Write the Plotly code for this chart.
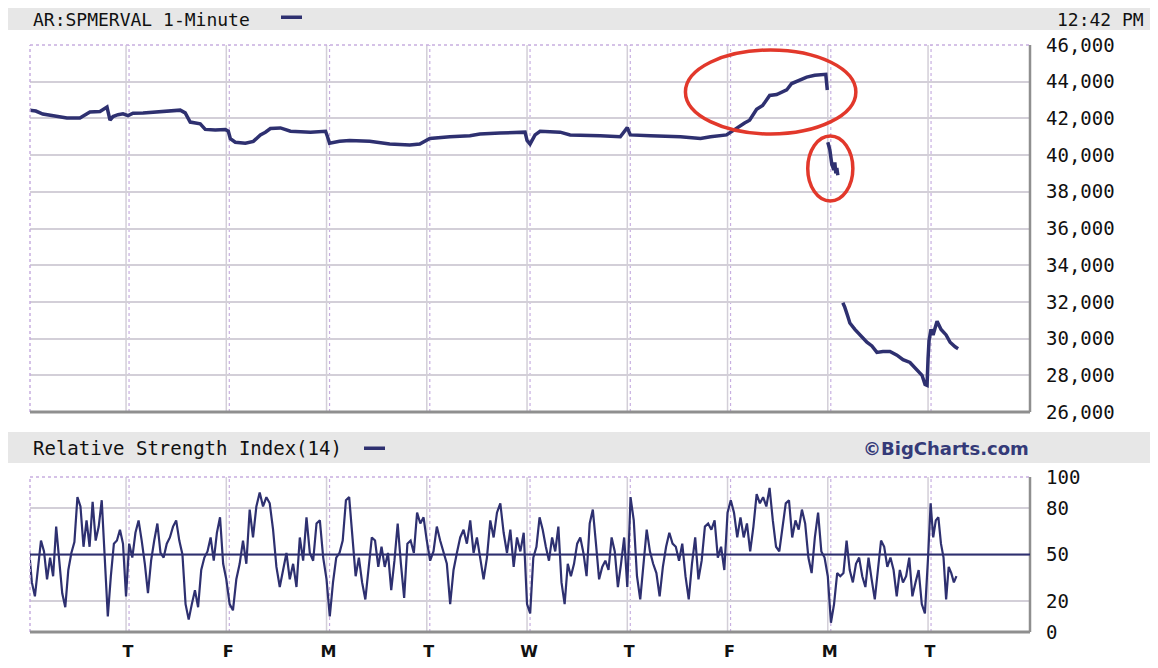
import numpy as np
import plotly.graph_objects as go

# ---------------- data ----------------
symbol_title = "AR:SPMERVAL 1-Minute"
rsi_title = "Relative Strength Index(14)"
last_time = "12:42 PM"
session_open_h, session_close_h = 11, 17   # local trading session
day_labels = ["T", "F", "M", "T", "W", "T", "F", "M", "T"]  # sessions 0..8

# price: time in trading-day units (session index + fraction of session), None = no trades
price_t = [-0.96, -0.90, -0.83, -0.71, -0.59, -0.46, -0.36, -0.26, -0.19, -0.16, -0.13, -0.08, -0.03,
           0.02, 0.07, 0.17, 0.34, 0.44, 0.54, 0.59, 0.64, 0.74, 0.79, 0.89, 0.99,
           1.02, 1.04, 1.09, 1.19, 1.27, 1.34, 1.39, 1.44, 1.54, 1.64, 1.84, 1.99,
           2.01, 2.03, 2.13, 2.23, 2.43, 2.63, 2.83, 2.93,
           3.03, 3.23, 3.43, 3.53, 3.73, 3.98,
           4.00, 4.03, 4.08, 4.13, 4.33, 4.43, 4.73, 4.93,
           5.00, 5.03, 5.23, 5.53, 5.73, 5.83, 5.99,
           6.07, 6.17, 6.22, 6.29, 6.35, 6.42, 6.49, 6.59, 6.64, 6.72, 6.79, 6.87, 6.98, 6.995,
           6.998,
           7.00, 7.02, 7.04, 7.06, 7.07, 7.08, 7.09, 7.10,
           7.12,
           7.15, 7.17, 7.20, 7.22, 7.27, 7.32, 7.39, 7.44, 7.49, 7.55, 7.62, 7.69, 7.75, 7.82,
           7.89, 7.94, 7.97, 7.99,
           8.00, 8.01, 8.03, 8.05, 8.09, 8.13, 8.18, 8.22, 8.27, 8.30]
price_v = [42450, 42400, 42240, 42150, 42020, 42020, 42350, 42380, 42620, 41900, 42100, 42200, 42250,
           42150, 42280, 42300, 42350, 42400, 42450, 42300, 41800, 41700, 41400, 41370, 41400,
           41300, 40900, 40700, 40650, 40750, 41100, 41250, 41450, 41480, 41300, 41250, 41300,
           41000, 40650, 40750, 40800, 40750, 40600, 40550, 40600,
           40900, 41000, 41050, 41150, 41200, 41250,
           40800, 40600, 41100, 41300, 41250, 41100, 41050, 41000,
           41500, 41100, 41050, 41000, 40900, 41000, 41100,
           41400, 41750, 41900, 42500, 42700, 43250, 43300, 43550, 43900, 44100, 44250, 44350, 44400, 43550,
           None,
           40700, 40300, 39500, 39200, 39600, 39000, 39300, 38900,
           None,
           31950, 31700, 31200, 30850, 30500, 30200, 29800, 29600, 29250, 29300, 29300, 29100, 28850, 28700,
           28250, 28000, 27500, 27450,
           28900, 29900, 30500, 30200, 30950, 30500, 30200, 29800, 29550, 29450]

# RSI(14), readings spread evenly through each session
rsi_s_m1 = [77, 55, 32, 23, 40, 59, 52, 34, 48, 36, 68, 44, 25, 16, 40, 51, 58, 87, 81, 55, 72, 55, 84,
            59, 68, 85, 51, 10, 36, 57, 59, 66, 57]
rsi_s0 = [23, 57, 48, 64, 72, 59, 44, 25, 46, 59, 70, 51, 48, 57, 61, 68, 72, 59, 50, 18, 8, 18, 27, 16,
          40, 48, 52, 61, 46, 64, 74, 44]
rsi_s1 = [34, 18, 14, 34, 44, 59, 44, 79, 61, 81, 90, 81, 87, 83, 66, 42, 29, 40, 51, 34, 44, 29, 61, 46,
          74, 51, 46, 70, 72, 48]
rsi_s2 = [34, 10, 32, 48, 51, 59, 85, 87, 61, 36, 48, 32, 21, 42, 61, 59, 42, 55, 42, 51, 27, 46, 70, 44,
          22, 57, 59, 51, 77, 70, 74]
rsi_s3 = [59, 46, 52, 68, 59, 52, 44, 18, 40, 51, 61, 66, 57, 72, 51, 61, 48, 34, 48, 72, 61, 77, 83, 64,
          51, 66, 42, 61, 52, 64]
rsi_s4 = [18, 12, 48, 55, 74, 66, 55, 46, 61, 52, 68, 32, 18, 44, 36, 44, 57, 61, 51, 36, 70, 79, 57, 34,
          42, 46, 40, 61, 52, 29, 44, 61]
rsi_s5 = [29, 87, 72, 36, 21, 42, 66, 52, 44, 38, 23, 42, 55, 64, 57, 55, 46, 57, 36, 21, 44, 61, 34, 46,
          68, 70, 66, 72, 48, 55, 40]
rsi_s6 = [77, 85, 77, 61, 74, 61, 70, 52, 68, 89, 83, 87, 81, 93, 72, 55, 52, 68, 83, 85, 61, 72, 66, 79,
          70, 48, 38, 61, 77, 52, 48]
rsi_s7 = [36, 6, 18, 38, 36, 38, 59, 40, 32, 44, 48, 36, 29, 48, 34, 21, 40, 59, 55, 42, 48, 40, 23, 40,
          32, 36, 48, 23, 32, 40, 18, 12]
rsi_s8 = [48, 83, 61, 72, 74, 57, 48, 21, 42, 38, 32, 36]
rsi_sessions = [rsi_s_m1, rsi_s0, rsi_s1, rsi_s2, rsi_s3, rsi_s4, rsi_s5, rsi_s6, rsi_s7, rsi_s8]
rsi_session_index = [-1, 0, 1, 2, 3, 4, 5, 6, 7, 8]

price_ticks = [26000, 28000, 30000, 32000, 34000, 36000, 38000, 40000, 42000, 44000, 46000]
rsi_ticks = [0, 20, 50, 80, 100]

# ---------------- build series ----------------
hh, mm = last_time.split()[0].split(":")
h = int(hh) + (12 if last_time.endswith("PM") and int(hh) != 12 else 0)
last_frac = (h * 60 + int(mm) - session_open_h * 60) / ((session_close_h - session_open_h) * 60)

rsi_x, rsi_y = [], []
for k, vals in zip(rsi_session_index, rsi_sessions):
    n = len(vals)
    if k == rsi_session_index[-1]:
        fr = np.linspace(0, last_frac, n)
    else:
        fr = np.arange(n) / n
    rsi_x.extend(list(k + fr))
    rsi_y.extend(vals)

NAVY = "#2e3070"
OFF = 8                     # page body margin
W, H = 1158 - 2 * OFF, 668 - 2 * OFF
FONT = "DejaVu Sans Mono"

def px_x(p):
    return (p - OFF) / W

def px_y(p):
    return 1 - (p - OFF) / H

xdom = [px_x(30), px_x(1030)]
ydom_top = [px_y(412), px_y(45)]
ydom_rsi = [px_y(632), px_y(477)]
xrange_ = [-0.958, 9.017]

fig = go.Figure()
fig.add_trace(go.Scatter(x=price_t, y=price_v, mode="lines", connectgaps=False,
                         line=dict(color=NAVY, width=3.5), xaxis="x", yaxis="y", hoverinfo="skip"))
fig.add_trace(go.Scatter(x=rsi_x, y=rsi_y, mode="lines",
                         line=dict(color=NAVY, width=2.2), xaxis="x2", yaxis="y2", hoverinfo="skip"))

shapes = []
GRID = "#d3cfd8"
LAV = "#c8aee0"
# header bars
for y0, y1 in [(8, 30), (432, 463)]:
    shapes.append(dict(type="rect", xref="paper", yref="paper", x0=0, x1=1, y0=px_y(y1), y1=px_y(y0),
                       fillcolor="#e7e7e7", line=dict(width=0), layer="below"))
# vertical day lines (double) on both panels
for xa, ya in [("x", "y domain"), ("x2", "y2 domain")]:
    for k in range(len(day_labels)):
        shapes.append(dict(type="line", xref=xa, yref=ya, x0=k, x1=k, y0=0, y1=1,
                           line=dict(color=GRID, width=1.5), layer="below"))
        shapes.append(dict(type="line", xref=xa, yref=ya, x0=k + 0.03, x1=k + 0.03, y0=0, y1=1,
                           line=dict(color=LAV, width=1.2, dash="dot"), layer="below"))
    # frame
    shapes.append(dict(type="line", xref=xa + " domain", yref=ya, x0=0, x1=0, y0=0, y1=1,
                       line=dict(color=LAV, width=1.5, dash="dot")))
    shapes.append(dict(type="line", xref=xa + " domain", yref=ya, x0=0, x1=1, y0=1, y1=1,
                       line=dict(color=LAV, width=1.5, dash="dot")))
    shapes.append(dict(type="line", xref=xa + " domain", yref=ya, x0=1, x1=1, y0=0, y1=1,
                       line=dict(color="#8f8f8f", width=2.5)))
    shapes.append(dict(type="line", xref=xa + " domain", yref=ya, x0=0, x1=1, y0=0, y1=0,
                       line=dict(color="#8f8f8f", width=3)))
# RSI 50 line
shapes.append(dict(type="line", xref="x2 domain", yref="y2", x0=0, x1=1, y0=50, y1=50,
                   line=dict(color=NAVY, width=2)))
# red highlight ellipses
RED = "#e2382b"
shapes.append(dict(type="circle", xref="x", yref="y", x0=5.58, x1=7.28, y0=41150, y1=45730,
                   line=dict(color=RED, width=3.5)))
shapes.append(dict(type="circle", xref="x", yref="y", x0=6.80, x1=7.25, y0=37500, y1=41040,
                   line=dict(color=RED, width=3.5)))
# legend swatches
shapes.append(dict(type="rect", xref="paper", yref="paper", x0=px_x(281), x1=px_x(302),
                   y0=px_y(19), y1=px_y(15.5), fillcolor=NAVY, line=dict(width=0)))
shapes.append(dict(type="rect", xref="paper", yref="paper", x0=px_x(364), x1=px_x(385),
                   y0=px_y(450), y1=px_y(446.5), fillcolor=NAVY, line=dict(width=0)))

annotations = [
    dict(text=symbol_title, xref="paper", yref="paper", x=px_x(31), y=px_y(19), xanchor="left",
         yanchor="middle", showarrow=False, font=dict(family=FONT, size=18, color="#111")),
    dict(text=last_time, xref="paper", yref="paper", x=px_x(1146), y=px_y(19), xanchor="right",
         yanchor="middle", showarrow=False, font=dict(family=FONT, size=18, color="#111")),
    dict(text=rsi_title, xref="paper", yref="paper", x=px_x(31), y=px_y(448), xanchor="left",
         yanchor="middle", showarrow=False, font=dict(family=FONT, size=19, color="#111")),
    dict(text="<b>©BigCharts.com</b>", xref="paper", yref="paper", x=px_x(1031), y=px_y(448),
         xanchor="right", yanchor="middle", showarrow=False,
         font=dict(family="DejaVu Sans", size=18, color="#343a78")),
]

axis_font = dict(family=FONT, size=19, color="#111")
fig.update_layout(
    template="none",
    width=W, height=H, margin=dict(l=0, r=0, t=0, b=0, pad=0, autoexpand=False),
    paper_bgcolor="white", plot_bgcolor="white", showlegend=False,
    shapes=shapes, annotations=annotations,
    xaxis=dict(domain=xdom, range=xrange_, anchor="y", showgrid=False, zeroline=False,
               showticklabels=False, ticks="", automargin=False, showline=False),
    yaxis=dict(domain=ydom_top, range=[26000, 46000], anchor="x", side="right",
               tickvals=price_ticks, tickformat=",d", showgrid=True, gridcolor=GRID, gridwidth=1.5,
               zeroline=False, ticks="", ticklabelstandoff=15, tickfont=axis_font,
               automargin=False, showline=False),
    xaxis2=dict(domain=xdom, range=xrange_, anchor="y2", showgrid=False, zeroline=False,
                tickvals=list(range(len(day_labels))), ticktext=[f"<b>{d}</b>" for d in day_labels],
                ticks="", ticklabelshift=2, ticklabelstandoff=8, automargin=False, showline=False,
                tickfont=dict(family="DejaVu Sans", size=16, color="#111")),
    yaxis2=dict(domain=ydom_rsi, range=[0, 100], anchor="x2", side="right",
                tickvals=rsi_ticks, showgrid=True, gridcolor=GRID, gridwidth=1.5,
                zeroline=False, ticks="", ticklabelstandoff=15, tickfont=axis_font,
                automargin=False, showline=False),
)

fig.write_html("out.html")
